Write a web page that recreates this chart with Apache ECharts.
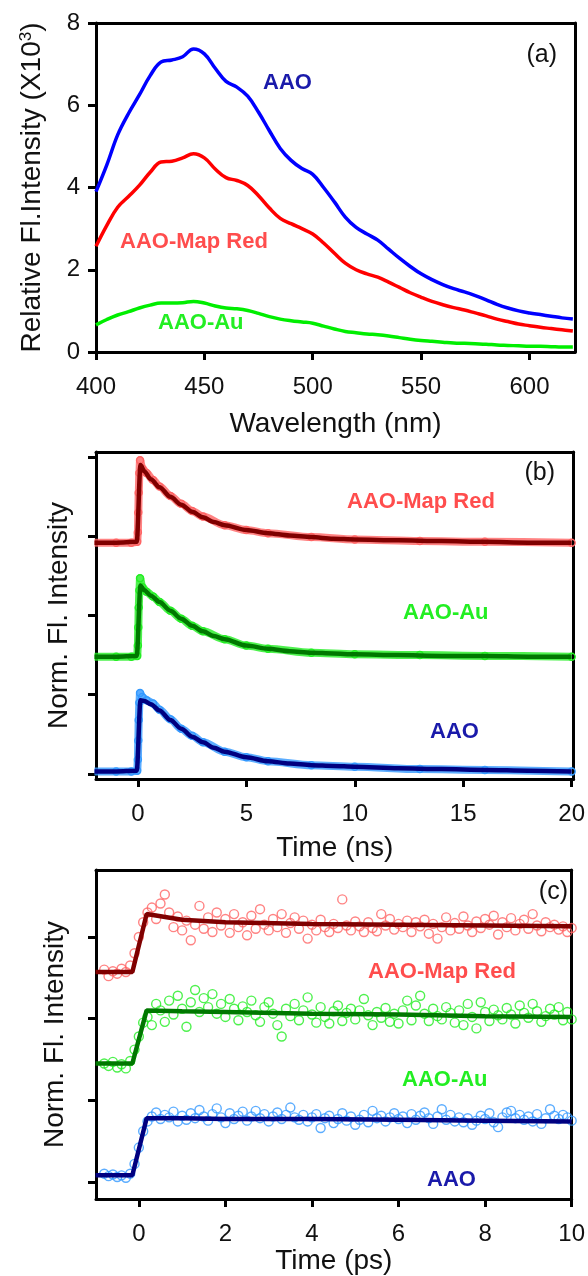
<!DOCTYPE html>
<html>
<head>
<meta charset="utf-8">
<script src="https://cdn.jsdelivr.net/npm/echarts@6/dist/echarts.min.js"></script>
<style>
  body { margin: 0; background: #fff; }
  #main { width: 588px; height: 1276px; }
</style>
</head>
<body>
<div id="main"></div>
<script>
// (a) emission spectra, intensity in units of 10^3
var wavelength = [400, 405, 410, 415, 420, 425, 430, 435, 440, 445, 450, 455, 460, 465, 470,
  475, 480, 485, 490, 495, 500, 505, 510, 515, 520, 525, 530, 535, 540, 545,
  550, 555, 560, 565, 570, 575, 580, 585, 590, 595, 600, 605, 610, 615, 620];
var aaoSpec = [3.90, 4.55, 5.28, 5.80, 6.25, 6.72, 7.05, 7.10, 7.18, 7.37, 7.25, 6.90, 6.58, 6.44, 6.22,
  5.83, 5.38, 4.95, 4.66, 4.46, 4.32, 4.00, 3.65, 3.28, 3.03, 2.87, 2.72, 2.50, 2.28, 2.08,
  1.90, 1.76, 1.64, 1.54, 1.46, 1.37, 1.27, 1.16, 1.07, 1.00, 0.95, 0.91, 0.87, 0.83, 0.80];
var mapRedSpec = [2.57, 3.08, 3.52, 3.78, 4.05, 4.37, 4.62, 4.64, 4.72, 4.82, 4.72, 4.45, 4.24, 4.17, 4.05,
  3.80, 3.50, 3.25, 3.12, 3.00, 2.87, 2.65, 2.40, 2.16, 2.00, 1.90, 1.82, 1.70, 1.57, 1.44,
  1.33, 1.23, 1.15, 1.08, 1.02, 0.95, 0.88, 0.80, 0.74, 0.68, 0.64, 0.60, 0.57, 0.54, 0.51];
var auSpec = [0.66, 0.79, 0.90, 0.98, 1.07, 1.14, 1.19, 1.19, 1.20, 1.23, 1.19, 1.12, 1.07, 1.05, 1.01,
  0.94, 0.86, 0.80, 0.76, 0.73, 0.70, 0.63, 0.56, 0.50, 0.47, 0.44, 0.42, 0.39, 0.35, 0.31,
  0.28, 0.26, 0.24, 0.22, 0.21, 0.20, 0.19, 0.17, 0.16, 0.15, 0.14, 0.14, 0.13, 0.12, 0.12];

// (b) ns decays, curves offset vertically
var tNsData = [-2, -1, -0.3, -0.03, 0.0, 0.02, 0.04, 0.07, 0.1, 0.2, 0.4, 0.7, 1, 1.5, 2, 2.5, 3, 4, 5, 6, 8, 10, 13, 16, 20];
var mapRedNsData = [2.92, 2.92, 2.92, 2.93, 3.05, 3.30, 3.55, 3.80, 3.96, 3.86, 3.80, 3.71, 3.63, 3.51, 3.41, 3.32, 3.25, 3.14, 3.08, 3.04, 2.99, 2.96, 2.94, 2.93, 2.92];
var auNsData = [1.48, 1.48, 1.48, 1.49, 1.62, 1.85, 2.10, 2.32, 2.47, 2.36, 2.30, 2.24, 2.17, 2.06, 1.96, 1.87, 1.80, 1.70, 1.62, 1.58, 1.53, 1.51, 1.50, 1.49, 1.48];
var aaoNsData = [0.03, 0.03, 0.03, 0.04, 0.18, 0.42, 0.68, 0.90, 1.02, 0.97, 0.93, 0.89, 0.81, 0.69, 0.57, 0.48, 0.40, 0.28, 0.21, 0.16, 0.11, 0.09, 0.06, 0.05, 0.03];

var tNsFit = [-2, -1, -0.05, 0.12, 0.3, 0.6, 1, 1.5, 2, 2.5, 3, 3.5, 4, 5, 6, 7, 8, 9, 10, 12, 14, 16, 18, 20];
var mapRedNsFit = [2.92, 2.92, 2.93, 3.90, 3.82, 3.72, 3.62, 3.50, 3.40, 3.31, 3.24, 3.18, 3.14, 3.08, 3.04, 3.01, 2.99, 2.97, 2.96, 2.95, 2.94, 2.93, 2.92, 2.92];
var auNsFit = [1.48, 1.48, 1.49, 2.38, 2.32, 2.25, 2.17, 2.06, 1.96, 1.87, 1.80, 1.74, 1.70, 1.62, 1.58, 1.55, 1.53, 1.52, 1.51, 1.50, 1.49, 1.49, 1.48, 1.48];
var aaoNsFit = [0.03, 0.03, 0.04, 0.93, 0.92, 0.88, 0.80, 0.68, 0.57, 0.47, 0.40, 0.33, 0.28, 0.21, 0.16, 0.13, 0.11, 0.10, 0.09, 0.07, 0.06, 0.05, 0.04, 0.03];

// (c) ps rise
var tPs = [-0.8, -0.7, -0.6, -0.5, -0.4, -0.3, -0.2, -0.1, 0.0, 0.1,
  0.2, 0.3, 0.4, 0.5, 0.6, 0.7, 0.8, 0.9, 1.0, 1.1,
  1.2, 1.3, 1.4, 1.5, 1.6, 1.7, 1.8, 1.9, 2.0, 2.1,
  2.2, 2.3, 2.4, 2.5, 2.6, 2.7, 2.8, 2.9, 3.0, 3.1,
  3.2, 3.3, 3.4, 3.5, 3.6, 3.7, 3.8, 3.9, 4.0, 4.1,
  4.2, 4.3, 4.4, 4.5, 4.6, 4.7, 4.8, 4.9, 5.0, 5.1,
  5.2, 5.3, 5.4, 5.5, 5.6, 5.7, 5.8, 5.9, 6.0, 6.1,
  6.2, 6.3, 6.4, 6.5, 6.6, 6.7, 6.8, 6.9, 7.0, 7.1,
  7.2, 7.3, 7.4, 7.5, 7.6, 7.7, 7.8, 7.9, 8.0, 8.1,
  8.2, 8.3, 8.4, 8.5, 8.6, 8.7, 8.8, 8.9, 9.0, 9.1,
  9.2, 9.3, 9.4, 9.5, 9.6, 9.7, 9.8, 9.9, 10.0];
var mapRedPs = [2.60, 2.52, 2.58, 2.55, 2.61, 2.57, 2.65, 2.80, 3.00, 3.18,
  3.30, 3.36, 3.22, 3.41, 3.52, 3.30, 3.12, 3.25, 3.08, 3.20,
  2.96, 3.15, 3.38, 3.10, 3.24, 3.06, 3.30, 3.14, 3.22, 3.05,
  3.28, 3.12, 3.18, 3.02, 3.26, 3.10, 3.34, 3.15, 3.08, 3.22,
  3.12, 3.28, 3.05, 3.17, 3.24, 3.10, 3.20, 2.98, 3.15, 3.08,
  3.21, 3.12, 3.06, 3.16, 3.11, 3.46, 3.14, 3.08, 3.19, 3.13,
  3.06, 3.18, 3.11, 3.07, 3.28, 3.14, 3.22, 3.09, 3.16, 3.12,
  3.20, 3.06, 3.18, 3.13, 3.21, 3.04, 3.16, 2.98, 3.12, 3.24,
  3.08, 3.17, 3.10, 3.25, 3.14, 3.06, 3.19, 3.11, 3.22, 3.15,
  3.26, 3.03, 3.18, 3.12, 3.23, 3.08, 3.16, 3.21, 3.10, 3.28,
  3.14, 3.07, 3.18, 3.12, 3.15, 3.09, 3.13, 3.06, 3.11];
var auPs = [1.45, 1.42, 1.47, 1.40, 1.44, 1.39, 1.48, 1.62, 1.78, 1.95,
  2.02, 1.92, 2.18, 2.10, 1.96, 2.22, 2.05, 2.28, 2.12, 1.90,
  2.20, 2.35, 2.08, 2.25, 2.14, 2.30, 2.06, 2.18, 2.02, 2.24,
  2.12, 1.98, 2.15, 2.08, 2.22, 2.04, 1.96, 2.14, 2.20, 2.06,
  1.92, 1.78, 2.12, 2.03, 2.18, 1.98, 2.10, 2.26, 2.05, 1.95,
  2.14, 2.02, 1.94, 2.09, 2.16, 1.97, 2.07, 2.12, 1.99, 2.10,
  2.24, 2.04, 1.92, 2.08, 2.01, 2.13, 1.96, 2.06, 1.94, 2.10,
  2.22, 1.98, 2.16, 2.28, 2.06, 1.97, 2.12, 2.03, 1.99, 2.14,
  2.07, 1.95, 2.10, 1.92, 2.18, 2.02, 1.88, 2.20, 2.08, 1.97,
  2.11, 2.04, 1.99, 2.13, 2.05, 1.94, 2.16, 2.07, 2.01, 2.18,
  2.09, 1.96, 2.03, 2.12, 2.05, 2.14, 1.98, 2.08, 1.99];
var aaoPs = [0.10, 0.07, 0.09, 0.06, 0.08, 0.05, 0.10, 0.22, 0.42, 0.62,
  0.74, 0.80, 0.85, 0.77, 0.82, 0.79, 0.86, 0.74, 0.81, 0.76,
  0.84, 0.78, 0.88, 0.80, 0.75, 0.83, 0.90, 0.79, 0.72, 0.84,
  0.77, 0.81, 0.86, 0.75, 0.80, 0.87, 0.78, 0.83, 0.74, 0.80,
  0.85, 0.77, 0.82, 0.91, 0.79, 0.76, 0.82, 0.74, 0.79, 0.83,
  0.66, 0.78, 0.81, 0.72, 0.77, 0.84, 0.75, 0.80, 0.70, 0.76,
  0.82, 0.73, 0.87, 0.78, 0.81, 0.74, 0.79, 0.84, 0.77, 0.80,
  0.72, 0.83, 0.76, 0.81, 0.85, 0.78, 0.71, 0.80, 0.89, 0.76,
  0.82, 0.74, 0.79, 0.73, 0.78, 0.70, 0.75, 0.81, 0.77, 0.84,
  0.73, 0.67, 0.79, 0.85, 0.87, 0.78, 0.82, 0.76, 0.80, 0.74,
  0.83, 0.71, 0.78, 0.89, 0.81, 0.77, 0.82, 0.79, 0.75];

var tPsFit = [-1, -0.15, 0.18, 1, 2, 4, 6, 8, 10];
var mapRedPsFit = [2.57, 2.57, 3.28, 3.21, 3.18, 3.16, 3.15, 3.14, 3.13];
var auPsFit = [1.45, 1.45, 2.10, 2.09, 2.08, 2.06, 2.05, 2.03, 2.02];
var aaoPsFit = [0.08, 0.08, 0.78, 0.78, 0.77, 0.77, 0.76, 0.75, 0.74];

var ticksA = [400, 450, 500, 550, 600];
var ticksNs = [0, 5, 10, 15, 20];
var ticksPs = [0, 2, 4, 6, 8, 10];

var FONT = 'Liberation Sans, Arial, sans-serif';
var col = {
  blue: '#0000ff', red: '#ff0000', green: '#00ee00',
  redPt: '#ff6464', greenPt: '#22ee22', bluePt: '#3399ff',
  redFit: '#800000', greenFit: '#007800', blueFit: '#000080',
  lblBlue: '#1a1aaa', lblRed: '#ff4d4d', lblGreen: '#22ee22'
};
var frameLine = { show: true, onZero: false, lineStyle: { color: '#000', width: 3 } };

function pairs(xs, ys) {
  return xs.map(function (x, i) { return [x, ys[i]]; });
}

function xAx(idx, min, max, ticks, name, gap) {
  return {
    type: 'value', gridIndex: idx, min: min, max: max, position: 'bottom',
    name: name, nameLocation: 'middle', nameGap: gap,
    nameTextStyle: { fontFamily: FONT, fontSize: 28, color: '#111' },
    axisLine: frameLine,
    axisTick: { show: true, inside: false, length: 8, customValues: ticks, lineStyle: { color: '#000', width: 3 } },
    axisLabel: { show: true, customValues: ticks, margin: 23, fontFamily: FONT, fontSize: 24, color: '#111' },
    splitLine: { show: false }
  };
}

function yAx(idx, min, max, ticks, showLabel, name, gap, rich) {
  return {
    type: 'value', gridIndex: idx, min: min, max: max, position: 'left',
    name: name, nameLocation: 'middle', nameGap: gap,
    nameTextStyle: { fontFamily: FONT, fontSize: 28, color: '#111', rich: rich },
    axisLine: frameLine,
    axisTick: { show: true, inside: false, length: 8, customValues: ticks, lineStyle: { color: '#000', width: 3 } },
    axisLabel: { show: showLabel, customValues: ticks, margin: 16, fontFamily: FONT, fontSize: 24, color: '#111' },
    splitLine: { show: false }
  };
}

// plain axes on the top and right side, they only close the frame
function edgeAx(idx, pos) {
  return {
    type: 'value', gridIndex: idx, position: pos, min: 0, max: 1,
    axisLine: frameLine, axisTick: { show: false }, axisLabel: { show: false }, splitLine: { show: false }
  };
}

function specLine(data, color) {
  return {
    type: 'line', xAxisIndex: 0, yAxisIndex: 0, data: pairs(wavelength, data),
    showSymbol: false, smooth: 0.4, lineStyle: { color: color, width: 3.5 }
  };
}

function bandLine(xs, ys, color, idx) {
  return {
    type: 'line', xAxisIndex: idx, yAxisIndex: idx, data: pairs(xs, ys),
    smooth: 0.3, smoothMonotone: 'x',
    symbol: 'circle', symbolSize: 7, showSymbol: true,
    itemStyle: { color: 'rgba(0,0,0,0)', borderColor: color, borderWidth: 1.5 },
    lineStyle: { color: color, width: 8, opacity: 0.8 }
  };
}

function fitLine(xs, ys, color, idx, smooth) {
  return {
    type: 'line', xAxisIndex: idx, yAxisIndex: idx, data: pairs(xs, ys),
    showSymbol: false, smooth: smooth, smoothMonotone: 'x',
    lineStyle: { color: color, width: 4.5 }, z: 5
  };
}

function ringScatter(xs, ys, color) {
  return {
    type: 'scatter', xAxisIndex: 2, yAxisIndex: 2, data: pairs(xs, ys),
    symbol: 'circle', symbolSize: 9,
    itemStyle: { color: 'rgba(0,0,0,0)', borderColor: color, borderWidth: 1.4 }
  };
}

function label(text, x, y, color, align, size, bold) {
  return {
    type: 'text', x: x, y: y, z: 100,
    style: {
      text: text, fill: color,
      font: (bold ? 'bold ' : '') + size + 'px ' + FONT,
      align: align, verticalAlign: 'middle',
      textAlign: align, textVerticalAlign: 'middle'
    }
  };
}

var gridBox = { show: false, left: 96, right: 13 };

var chart = echarts.init(document.getElementById('main'), null, { renderer: 'canvas' });
chart.setOption({
  animation: false,
  backgroundColor: '#fff',
  grid: [
    Object.assign({}, gridBox, { top: 23, height: 329 }),
    Object.assign({}, gridBox, { top: 452, height: 327 }),
    Object.assign({}, gridBox, { top: 870, height: 330 })
  ],
  xAxis: [
    xAx(0, 400, 621, ticksA, 'Wavelength (nm)', 58),
    xAx(1, -1.93, 20.09, ticksNs, 'Time (ns)', 55),
    xAx(2, -0.99, 10, ticksPs, 'Time (ps)', 48),
    edgeAx(0, 'top'), edgeAx(1, 'top'), edgeAx(2, 'top')
  ],
  yAxis: [
    yAx(0, 0, 8, [0, 2, 4, 6, 8], true, 'Relative Fl.Intensity (X10{s|3})', 50,
      { s: { fontSize: 17, verticalAlign: 'top', fontFamily: FONT, color: '#111' } }),
    yAx(1, -0.065, 4.065, [0, 1, 2, 3, 4], false, 'Norm. Fl. Intensity', 23),
    yAx(2, -0.21, 3.82, [0, 1, 2, 3], false, 'Norm. Fl. Intensity', 27),
    edgeAx(0, 'right'), edgeAx(1, 'right'), edgeAx(2, 'right')
  ],
  series: [
    specLine(aaoSpec, col.blue),
    specLine(mapRedSpec, col.red),
    specLine(auSpec, col.green),

    bandLine(tNsData, mapRedNsData, col.redPt, 1),
    bandLine(tNsData, auNsData, col.greenPt, 1),
    bandLine(tNsData, aaoNsData, col.bluePt, 1),
    fitLine(tNsFit, mapRedNsFit, col.redFit, 1, 0.3),
    fitLine(tNsFit, auNsFit, col.greenFit, 1, 0.3),
    fitLine(tNsFit, aaoNsFit, col.blueFit, 1, 0.3),

    ringScatter(tPs, mapRedPs, col.redPt),
    ringScatter(tPs, auPs, col.greenPt),
    ringScatter(tPs, aaoPs, col.bluePt),
    fitLine(tPsFit, mapRedPsFit, col.redFit, 2, false),
    fitLine(tPsFit, auPsFit, col.greenFit, 2, false),
    fitLine(tPsFit, aaoPsFit, col.blueFit, 2, false)
  ],
  graphic: [
    label('(a)', 557, 55, '#111', 'right', 25, false),
    label('AAO', 263, 83, col.lblBlue, 'left', 22, true),
    label('AAO-Map Red', 120, 242, col.lblRed, 'left', 22, true),
    label('AAO-Au', 158, 323, col.lblGreen, 'left', 22, true),

    label('(b)', 555, 473, '#111', 'right', 25, false),
    label('AAO-Map Red', 347, 502, col.lblRed, 'left', 22, true),
    label('AAO-Au', 403, 613, col.lblGreen, 'left', 22, true),
    label('AAO', 430, 732, col.lblBlue, 'left', 22, true),

    label('(c)', 568, 892, '#111', 'right', 25, false),
    label('AAO-Map Red', 368, 972, col.lblRed, 'left', 22, true),
    label('AAO-Au', 402, 1080, col.lblGreen, 'left', 22, true),
    label('AAO', 427, 1180, col.lblBlue, 'left', 22, true)
  ]
});
</script>
</body>
</html>
